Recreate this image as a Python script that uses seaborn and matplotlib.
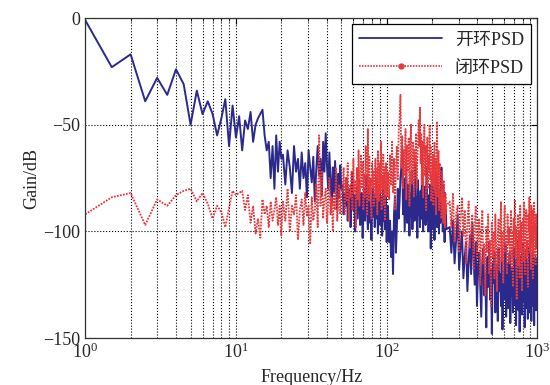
import numpy as np
import pandas as pd
import seaborn as sns
import matplotlib
matplotlib.use("Agg")
import matplotlib.pyplot as plt
from matplotlib.lines import Line2D
from matplotlib.font_manager import FontProperties

# frequency bands (Hz): start, end of each band of read values
band_a = (1, 20)
band_b = (20.5, 50)
band_c = (51, 100)
band_d = (102, 249)
band_e = (262, 1000)

# open-loop PSD (dB)
open_a = [-1, -23, -17, -39, -28, -36, -24, -31, -50, -34, -45, -39, -45, -55, -47,
          -38, -60, -41, -56, -46, -62, -48, -52, -44, -58, -50, -47, -45, -43, -55,
          -62, -58, -75, -60, -80, -55, -72, -58, -66]
open_b = [-64, -78, -62, -70, -82, -60, -72, -66, -80, -63, -75, -68, -84, -62, -70,
          -77, -65, -86, -71, -60, -74, -66, -83, -58, -72, -54, -69, -80, -63, -76,
          -88, -70, -82, -67, -78, -90, -73, -84, -69, -80]
open_c = [-78, -92, -82, -88, -75, -95, -84, -80, -98, -86, -72, -90, -83, -100, -87,
          -79, -94, -85, -76, -97, -88, -82, -103, -90, -80, -95, -86, -74, -92, -99,
          -84, -78, -96, -89, -104, -85, -80, -93, -87, -98, -82, -94, -77, -90, -101,
          -86, -92, -79, -97, -88, -84, -102, -91, -76, -95, -87, -99, -83, -92, -105]
open_d = [-88, -105, -95, -112, -100, -120, -92, -84, -110, -98, -80, -94, -86, -75, -70,
          -60, -92, -75, -100, -85, -70, -96, -88, -78, -102, -82, -93, -72, -99, -86,
          -80, -95, -68, -90, -84, -103, -76, -92, -87, -98, -81, -94, -73, -89, -100,
          -85, -92, -79, -97, -88, -70, -95, -83, -100, -90, -96, -78, -108, -85, -92,
          -74, -99, -88, -80, -104, -86, -95, -72, -90, -98, -84, -76, -93, -101, -87,
          -80, -96, -89, -70, -94, -85, -100, -78, -92, -88, -105, -82, -96, -90, -99]
open_e = [-98, -110, -95, -115, -104, -92, -118, -108, -100, -122, -112, -105, -128, -115, -102,
          -120, -96, -110, -125, -105, -135, -118, -110, -125, -140, -114, -108, -130, -120, -145,
          -112, -126, -105, -132, -118, -148, -115, -124, -110, -138, -122, -116, -142, -108, -128,
          -120, -135, -112, -146, -125, -118, -132, -106, -140, -122, -115, -136, -128, -110, -143,
          -120, -130, -117, -138, -125, -108, -134, -119, -144, -113, -128, -104, -137, -121, -147,
          -116, -130, -111, -139, -124, -106, -133, -118, -145, -122, -109, -136, -127, -114, -141,
          -120, -131, -107, -138, -125, -115, -142, -119, -129, -110, -135, -121, -144, -116, -128,
          -112, -137, -123, -118, -130]

# closed-loop PSD (dB)
closed_a = [-92, -84, -82, -97, -85, -88, -83, -81, -80, -86, -82, -87, -94, -88, -91,
            -98, -89, -81, -83, -82, -81, -90, -83, -96, -88, -101, -94, -103, -85, -92,
            -88, -98, -86, -95, -90, -84, -97, -88, -102]
closed_b = [-86, -95, -80, -100, -88, -92, -83, -104, -90, -85, -97, -82, -93, -88, -106,
            -84, -95, -90, -78, -98, -55, -88, -72, -94, -85, -80, -96, -87, -75, -92,
            -84, -100, -82, -90, -70, -95, -86, -78, -92, -84]
closed_c = [-80, -70, -92, -75, -86, -68, -95, -78, -84, -72, -90, -66, -82, -76, -98,
            -70, -85, -62, -88, -74, -64, -80, -67, -90, -73, -84, -60, -78, -92, -52,
            -86, -65, -82, -75, -94, -68, -80, -72, -88, -76, -66, -84, -70, -92, -62,
            -78, -86, -68, -82, -58, -90, -74, -80, -64, -88, -70, -95, -76, -68, -84]
closed_d = [-72, -85, -64, -78, -58, -82, -66, -90, -70, -60, -76, -54, -48, -36, -70,
            -55, -80, -62, -74, -52, -85, -60, -72, -56, -88, -64, -50, -78, -68, -58,
            -84, -62, -75, -54, -80, -66, -58, -48, -60, -42, -68, -54, -78, -58, -84,
            -62, -50, -74, -60, -90, -66, -56, -80, -64, -72, -50, -76, -60, -86, -68,
            -78, -64, -88, -72, -58, -82, -66, -92, -70, -49, -76, -84, -62, -90, -74,
            -68, -86, -78, -94, -72, -88, -80, -96, -76, -90, -84, -98, -82, -92, -88]
closed_e = [-86, -98, -82, -105, -92, -88, -110, -95, -84, -102, -90, -115, -96, -86, -108,
            -100, -92, -118, -98, -88, -112, -104, -94, -125, -100, -90, -115, -106, -130, -98,
            -110, -92, -120, -104, -135, -96, -112, -100, -122, -92, -108, -128, -102, -94, -118,
            -106, -86, -114, -100, -124, -96, -88, -110, -102, -120, -92, -106, -98, -115, -104,
            -90, -118, -100, -126, -94, -108, -85, -112, -98, -132, -104, -92, -116, -100, -122,
            -88, -110, -96, -128, -102, -94, -114, -86, -106, -120, -98, -90, -112, -104, -126,
            -92, -100, -84, -110, -96, -118, -88, -106, -98, -122, -90, -112, -86, -104, -96,
            -116, -92, -108, -100, -98]

labels = ["开环PSD", "闭环PSD"]

bands = [band_a, band_b, band_c, band_d, band_e]
open_vals = [open_a, open_b, open_c, open_d, open_e]
closed_vals = [closed_a, closed_b, closed_c, closed_d, closed_e]
freq = np.concatenate([np.linspace(b[0], b[1], len(v)) for b, v in zip(bands, open_vals)])
df = pd.DataFrame({
    "Frequency": freq,
    "open": np.concatenate(open_vals),
    "closed": np.concatenate(closed_vals),
})

sns.set_style("white")
plt.rcParams["font.family"] = ["Liberation Serif", "Noto Sans CJK SC"]
plt.rcParams["mathtext.fontset"] = "stix"
plt.rcParams["axes.unicode_minus"] = True

blue = "#2b2a8c"
red = "#e8383c"

fig = plt.figure(figsize=(5.5, 3.85), dpi=100)
ax = fig.add_axes([0.155, 0.122, 0.822, 0.831])

sns.lineplot(data=df, x="Frequency", y="open", ax=ax, color=blue, linewidth=1.4,
             estimator=None, sort=False)
sns.lineplot(data=df, x="Frequency", y="closed", ax=ax, color=red, linewidth=1.3,
             linestyle=(0, (1, 0.7)), estimator=None, sort=False)

ax.set_xscale("log")
ax.set_xlim(1, 1000)
ax.set_ylim(-150, 0)
ax.set_yticks([0, -50, -100, -150])
ax.grid(True, which="both", axis="x", color="black", linestyle=":", linewidth=0.8)
ax.grid(True, which="major", axis="y", color="black", linestyle=":", linewidth=0.8)
ax.tick_params(which="both", direction="in", top=True, right=True, labelsize=13,
               color="black")
ax.tick_params(which="major", length=4)
ax.tick_params(which="minor", length=2)
for s in ax.spines.values():
    s.set_color("#333333")
    s.set_linewidth(0.9)

ax.set_xlabel("Frequency/Hz", fontsize=13, labelpad=5)
ax.set_ylabel("Gain/dB", fontsize=13, labelpad=2)

handles = [Line2D([0], [0], color=blue, linewidth=1.3),
           Line2D([0], [0], color=red, linewidth=1.2, linestyle=(0, (1, 0.7)), marker="o",
                  markersize=3.5)]
leg = ax.legend(handles, labels, loc="upper right", numpoints=1, handlelength=4.6,
                fancybox=False, framealpha=1, edgecolor="black", borderaxespad=0.35,
                prop=FontProperties(family=["Liberation Serif", "Noto Sans CJK SC"], size=13),
                labelspacing=0.6, handletextpad=0.7)
leg.get_frame().set_linewidth(0.9)

fig.savefig("out.png", dpi=100)
